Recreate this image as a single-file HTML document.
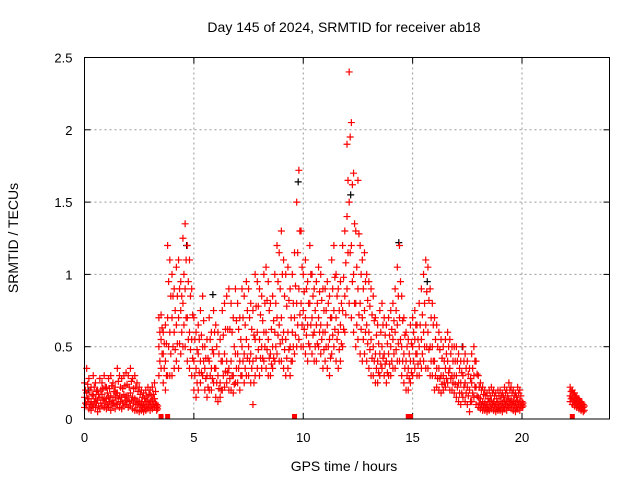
<!DOCTYPE html>
<html><head><meta charset="utf-8"><style>
body{margin:0;background:#fff}
svg{display:block;font-family:"Liberation Sans",sans-serif}
</style></head><body>
<svg id="chart" width="640" height="480" viewBox="0 0 640 480">
<text x="344" y="32" font-size="14" text-anchor="middle">Day 145 of 2024, SRMTID for receiver ab18</text>
<text x="344" y="471" font-size="14" text-anchor="middle">GPS time / hours</text>
<text x="18" y="238" font-size="14" text-anchor="middle" transform="rotate(-90 18 238)">SRMTID / TECUs</text>
<g id="grid"></g>
<g id="ticks"></g>
<g id="marks"></g>
<rect x="84.5" y="57.5" width="525" height="361.5" fill="none" stroke="#000" stroke-width="1"/>
</svg>
<script>
const xTicks=[0,5,10,15,20];
const yTicks=[0,0.5,1,1.5,2,2.5];
const yTickLabels=["0","0.5","1","1.5","2","2.5"];
const hours=[0,0.1,0.2,0.3,0.4,0.5,0.6,0.7,0.8,0.9,1,1.1,1.2,1.3,1.4,1.5,1.6,1.7,1.8,1.9,2,2.1,2.2,2.3,2.4,2.5,2.6,2.7,2.8,2.9,3,3.1,3.2,3.3,3.4,3.5,3.6,3.7,3.8,3.9,4,4.1,4.2,4.3,4.4,4.5,4.6,4.7,4.8,4.9,5,5.1,5.2,5.3,5.4,5.5,5.6,5.7,5.8,5.9,6,6.1,6.2,6.3,6.4,6.5,6.6,6.7,6.8,6.9,7,7.1,7.2,7.3,7.4,7.5,7.6,7.7,7.8,7.9,8,8.1,8.2,8.3,8.4,8.5,8.6,8.7,8.8,8.9,9,9.1,9.2,9.3,9.4,9.5,9.6,9.7,9.8,9.9,10,10.1,10.2,10.3,10.4,10.5,10.6,10.7,10.8,10.9,11,11.1,11.2,11.3,11.4,11.5,11.6,11.7,11.8,11.9,12,12.1,12.2,12.3,12.4,12.5,12.6,12.7,12.8,12.9,13,13.1,13.2,13.3,13.4,13.5,13.6,13.7,13.8,13.9,14,14.1,14.2,14.3,14.4,14.5,14.6,14.7,14.8,14.9,15,15.1,15.2,15.3,15.4,15.5,15.6,15.7,15.8,15.9,16,16.1,16.2,16.3,16.4,16.5,16.6,16.7,16.8,16.9,17,17.1,17.2,17.3,17.4,17.5,17.6,17.7,17.8,17.9,18,18.1,18.2,18.3,18.4,18.5,18.6,18.7,18.8,18.9,19,19.1,19.2,19.3,19.4,19.5,19.6,19.7,19.8,19.9,20,22.2,22.3,22.4,22.5,22.6,22.7,22.8];
const hiVals=[.25,.35,.28,.22,.3,.25,.2,.28,.25,.3,.22,.28,.3,.25,.22,.35,.3,.28,.3,.32,.3,.35,.28,.3,.25,.22,.2,.18,.2,.22,.2,.22,.25,.1,.7,.72,.6,.65,1.2,1.1,1.0,.9,1.05,1.1,.95,1.25,1.35,1.2,1.1,.9,.7,.6,.65,.75,.85,.5,.55,.7,.6,.75,.65,.6,.55,.75,.8,.85,.9,.8,.7,.9,.8,.7,.9,.85,.95,.9,.8,.75,1.0,.95,.9,.85,1.0,1.05,.95,.8,.85,1.0,1.2,1.15,1.3,1.1,1.0,1.05,.9,1.0,1.15,1.5,1.72,1.3,1.0,1.1,.95,1.2,1.0,.9,.95,1.05,1.0,.9,.9,.95,.85,1.1,1.2,1.0,.9,.95,1.2,1.3,1.9,2.4,2.05,1.7,1.3,1.65,1.2,1.1,1.15,1.0,.95,.9,.85,.7,.65,.75,.8,.7,.65,.7,.75,.8,.9,1.05,1.2,.85,.7,.6,.55,.65,.7,.75,.65,.8,.9,1.0,1.1,1.05,.9,.8,.7,.65,.6,.55,.5,.55,.6,.55,.5,.5,.5,.45,.4,.5,.45,.4,.35,.45,.5,.4,.3,.25,.22,.2,.18,.2,.22,.2,.18,.2,.2,.18,.22,.2,.25,.22,.2,.18,.22,.2,.12,.22,.2,.18,.15,.14,.12,.1];
const q3Vals=[.2,.24,.2,.17,.22,.19,.17,.2,.21,.22,.18,.21,.23,.19,.18,.26,.22,.21,.23,.24,.22,.26,.21,.22,.19,.17,.15,.14,.16,.17,.16,.17,.19,.09,.6,.63,.52,.52,.95,.85,.85,.75,.85,.9,.85,1.0,1.1,.95,.85,.72,.55,.48,.55,.58,.68,.42,.42,.55,.48,.6,.5,.45,.4,.58,.62,.62,.62,.6,.5,.68,.62,.55,.7,.65,.75,.7,.62,.58,.78,.78,.72,.68,.8,.82,.75,.62,.68,.8,.95,.9,1.0,.85,.78,.82,.7,.8,.92,1.15,1.3,1.05,.88,.9,.8,1.0,.85,.75,.8,.88,.82,.75,.75,.8,.7,.9,.98,.85,.75,.8,.98,1.08,1.65,1.95,1.62,1.35,1.05,1.28,1.0,.9,.95,.82,.78,.72,.68,.58,.52,.6,.65,.58,.52,.58,.62,.68,.75,.85,.95,.68,.58,.5,.45,.52,.6,.65,.55,.65,.72,.8,.88,.82,.7,.65,.55,.5,.48,.42,.4,.45,.5,.45,.4,.4,.4,.35,.32,.4,.35,.31,.28,.35,.4,.31,.22,.2,.17,.16,.14,.16,.18,.16,.14,.16,.16,.15,.18,.16,.2,.18,.16,.15,.18,.16,.11,.19,.18,.16,.13,.12,.11,.09];
const midVals=[.15,.18,.14,.12,.16,.14,.13,.15,.17,.14,.14,.15,.16,.13,.15,.18,.16,.15,.17,.16,.16,.18,.15,.14,.13,.12,.11,.1,.12,.13,.12,.13,.14,.08,.5,.55,.45,.4,.7,.6,.7,.6,.65,.7,.75,.8,.9,.7,.6,.55,.4,.35,.45,.4,.5,.35,.3,.4,.35,.45,.35,.3,.25,.4,.45,.4,.35,.4,.3,.45,.45,.4,.5,.45,.55,.5,.45,.4,.55,.6,.55,.5,.6,.6,.55,.45,.5,.6,.7,.65,.7,.6,.55,.6,.5,.6,.7,.8,.9,.8,.75,.7,.65,.8,.7,.6,.65,.7,.65,.6,.6,.65,.55,.7,.75,.7,.6,.65,.75,.85,1.4,1.5,1.2,1.0,.8,.9,.8,.7,.75,.65,.6,.55,.5,.45,.4,.45,.5,.45,.4,.45,.5,.55,.6,.65,.7,.5,.45,.4,.35,.4,.5,.55,.45,.5,.55,.6,.65,.6,.5,.5,.4,.35,.35,.3,.3,.35,.4,.35,.3,.3,.3,.25,.25,.3,.25,.22,.2,.25,.3,.22,.15,.14,.12,.11,.1,.12,.13,.12,.1,.11,.12,.11,.13,.12,.14,.13,.12,.11,.13,.12,.1,.16,.15,.13,.11,.1,.09,.08];
const q1Vals=[.11,.14,.1,.09,.12,.11,.09,.11,.13,.11,.1,.12,.11,.11,.11,.14,.12,.11,.13,.13,.12,.13,.11,.1,.1,.09,.08,.08,.09,.1,.09,.1,.11,.07,.4,.45,.35,.3,.5,.45,.5,.48,.52,.52,.6,.65,.7,.55,.48,.42,.3,.25,.32,.32,.4,.28,.22,.3,.28,.35,.25,.21,.2,.3,.33,.32,.28,.3,.24,.35,.35,.3,.4,.35,.42,.4,.35,.25,.42,.48,.42,.42,.5,.48,.42,.38,.42,.5,.58,.52,.55,.48,.42,.48,.4,.5,.58,.65,.72,.65,.62,.58,.52,.65,.58,.5,.52,.6,.55,.48,.5,.5,.42,.58,.62,.55,.48,.52,.62,.72,1.15,1.15,.95,.8,.65,.72,.62,.55,.6,.52,.48,.42,.4,.35,.32,.38,.42,.38,.32,.38,.4,.45,.48,.52,.55,.4,.35,.3,.28,.32,.4,.45,.38,.4,.45,.5,.5,.48,.4,.4,.3,.28,.28,.24,.25,.28,.32,.28,.25,.24,.22,.18,.18,.22,.18,.16,.12,.18,.22,.16,.11,.1,.09,.08,.07,.09,.1,.09,.07,.08,.09,.08,.1,.09,.11,.1,.09,.08,.1,.09,.09,.14,.12,.11,.09,.08,.07,.06];
const loVals=[.08,.1,.07,.06,.09,.08,.05,.07,.09,.08,.07,.08,.06,.09,.07,.1,.08,.07,.09,.1,.08,.09,.07,.06,.06,.05,.06,.05,.06,.07,.06,.07,.08,.06,.3,.35,.25,.2,.3,.3,.3,.35,.4,.35,.45,.5,.5,.4,.35,.3,.2,.15,.2,.25,.3,.2,.15,.2,.2,.25,.15,.12,.15,.2,.22,.25,.2,.2,.18,.25,.25,.2,.3,.25,.3,.3,.25,.1,.3,.35,.3,.35,.4,.35,.3,.3,.35,.4,.45,.4,.4,.35,.3,.35,.3,.4,.45,.5,.55,.5,.5,.45,.4,.5,.45,.4,.4,.5,.45,.35,.4,.35,.3,.45,.5,.4,.35,.4,.5,.6,.9,.8,.7,.6,.5,.55,.45,.4,.45,.4,.35,.3,.3,.25,.25,.3,.35,.3,.25,.3,.3,.35,.35,.4,.4,.3,.25,.2,.2,.25,.3,.35,.3,.3,.35,.4,.35,.35,.3,.3,.2,.22,.2,.18,.2,.22,.25,.2,.2,.18,.15,.12,.1,.15,.12,.1,.05,.12,.15,.1,.08,.07,.06,.06,.05,.06,.07,.06,.05,.06,.06,.05,.07,.06,.08,.07,.06,.05,.07,.06,.08,.12,.1,.09,.08,.07,.06,.05];
const blackHours=[4.6,9.7,14.3,15.6,12.1,5.8,0.1,17.2];
const blackVals=[1.2,1.64,1.22,0.95,1.55,0.86,0.2,0.5];
const zeroHours=[3.5,3.8,9.6,14.8,14.9,22.3];

const L=84.5,R=609.5,T=57.5,B=419;
const X=h=>L+(h/24)*(R-L);
const Y=v=>B-(v/2.5)*(B-T);
const NS="http://www.w3.org/2000/svg";
function mk(tag,parent,attrs){const e=document.createElementNS(NS,tag);for(const k in attrs)e.setAttribute(k,attrs[k]);parent.appendChild(e);return e;}
const grid=document.getElementById('grid'),ticks=document.getElementById('ticks'),marks=document.getElementById('marks');
xTicks.forEach(t=>{
  const x=X(t);
  if(t>0){const g=mk('line',grid,{x1:x,x2:x,y1:T,y2:B,stroke:'#999','stroke-dasharray':'2,3'});
  
  }
  mk('line',ticks,{x1:x,x2:x,y1:B,y2:B-6,stroke:'#000'});
  mk('line',ticks,{x1:x,x2:x,y1:T,y2:T+6,stroke:'#000'});
  const lb=mk('text',ticks,{x:x,y:B+23,'font-size':13,'text-anchor':'middle'});
  lb.textContent=String(t);
  
  
});
yTicks.forEach((t,i)=>{
  const y=Y(t);
  if(t>0&&t<2.5){const g=mk('line',grid,{x1:L,x2:R,y1:y,y2:y,stroke:'#999','stroke-dasharray':'2,3'});
  
  }
  mk('line',ticks,{x1:L,x2:L+6,y1:y,y2:y,stroke:'#000'});
  mk('line',ticks,{x1:R,x2:R-6,y1:y,y2:y,stroke:'#000'});
  const lb=mk('text',ticks,{x:L-12,y:y+5,'font-size':13,'text-anchor':'end'});
  lb.textContent=yTickLabels[i];
  
  
});
function plus(h,v,color,dx){
  const x=X(h)+dx,y=Y(v);
  const p=mk('path',marks,{d:`M${x-3.5} ${y}H${x+3.5}M${x} ${y-3.5}V${y+3.5}`,stroke:color,'stroke-width':1.2,fill:'none'});
  
  
}
blackHours.forEach((h,i)=>plus(h,blackVals[i],'#000',1.5));
const series=[hiVals,q3Vals,midVals,q1Vals,loVals];
hours.forEach((h,i)=>{
  series.forEach((s,k)=>plus(h,s[i],'#f00',(k%2)?1:0));
});
zeroHours.forEach(h=>{
  const r=mk('rect',marks,{x:X(h)-2.5,y:B-5,width:5,height:5,fill:'#f00'});
  
  
});
</script>
</body></html>
